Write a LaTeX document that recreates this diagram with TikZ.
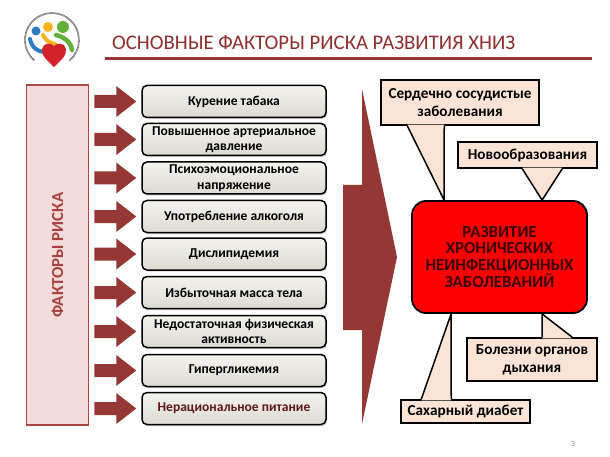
\documentclass[tikz,border=0pt]{standalone}
\usepackage{fontspec}
\setmainfont{Carlito}
\usetikzlibrary{shadows,calc}
\definecolor{dred}{HTML}{953735}
\definecolor{titlered}{HTML}{8E2F2D}
\definecolor{riskfill}{HTML}{F3DCDB}
\definecolor{riskline}{HTML}{A94744}
\definecolor{risktext}{HTML}{A8423F}
\definecolor{boxtop}{HTML}{F4F3EE}
\definecolor{boxbot}{HTML}{DCDAD2}
\definecolor{callfill}{HTML}{FBE4D5}
\definecolor{coretext}{HTML}{3A0505}
\definecolor{nutrition}{HTML}{5E1A1A}
\definecolor{lblue}{HTML}{2E7BBF}
\definecolor{lorange}{HTML}{F5B31B}
\definecolor{lgreen}{HTML}{64AE3C}
\definecolor{lheart}{HTML}{D2232A}
\newlength\mytw
\newcommand\calcsize[3]{%
  \settowidth\mytw{\fontsize{10}{12}\selectfont #3}%
  \pgfmathsetmacro#1{10*#2/\mytw}}
\begin{document}
\calcsize\titlesize{403}{ОСНОВНЫЕ ФАКТОРЫ РИСКА РАЗВИТИЯ ХНИЗ}%
\calcsize\boxsize{164}{\bfseries Повышенное артериальное}%
\calcsize\coresize{148}{\bfseries НЕИНФЕКЦИОННЫХ}%
\calcsize\callsize{143}{\bfseries Сердечно сосудистые}%
\calcsize\risksize{125}{\bfseries ФАКТОРЫ РИСКА}%
\begin{tikzpicture}[x=1pt,y=-1pt]
\tikzset{
  factor/.style={draw=black, line width=1.5pt, rounded corners=5pt,
    top color=boxtop, bottom color=boxbot, minimum width=184pt,
    minimum height=32pt, inner sep=1pt, align=center,
    font=\fontsize{\boxsize}{15.5}\selectfont\bfseries,
    drop shadow={shadow xshift=1.2pt, shadow yshift=-1.6pt, fill=black!35}},
  callbox/.style={draw=black, line width=1.5pt, fill=callfill, align=center,
    font=\fontsize{\callsize}{18}\selectfont\bfseries, inner sep=0pt},
  pointerline/.style={draw=black, line width=1.5pt, line join=round},
  blockarrow/.style={fill=dred, draw=none}
}
\useasboundingbox (0,0) rectangle (610,457);
\fill[white] (0,0) rectangle (610,457);

% logo
\begin{scope}[shift={(52,40)}, yscale=-1]
  \draw[black!55, line width=1.8pt, dash pattern=on 0.7pt off 0.5pt] (-50:27) arc (-50:230:27);
  \draw[lblue, line width=4pt, line cap=round] (-22,1) .. controls (-20,-8) and (-14,-12) .. (-7,-12);
  \draw[lorange, line width=4pt, line cap=round] (-9,5) .. controls (-6,-1) and (-2,-3) .. (3,-4);
  \draw[lgreen, line width=4.5pt, line cap=round] (4,5) .. controls (12,3) and (19,-2) .. (20,-10);
  \fill[lblue] (-16,9) circle (4.5);
  \fill[lorange] (-4,13) circle (5);
  \fill[lgreen] (11,13) circle (6);
  \fill[lheart] (2,-27) .. controls (-4,-21) and (-11,-16) .. (-10,-9)
    .. controls (-9,-3) and (-1,-2) .. (2,-6)
    .. controls (5,-2) and (13,-3) .. (14,-9)
    .. controls (15,-16) and (8,-21) .. (2,-27) -- cycle;
\end{scope}

% title
\node[anchor=base west, inner sep=0pt, text=titlered,
  font=\fontsize{\titlesize}{22}\selectfont] (title) at (112,50)
  {ОСНОВНЫЕ ФАКТОРЫ РИСКА РАЗВИТИЯ ХНИЗ};
\fill[dred] (105,57) rectangle (592,60.5);

% left panel
\node[draw=riskline, line width=1.6pt, fill=riskfill, minimum width=62pt,
  minimum height=340pt, inner sep=0pt] (risk) at (57.5,255) {};
\node[rotate=90, text=risktext, font=\fontsize{\risksize}{17}\selectfont\bfseries,
  inner sep=0pt] (risklabel) at (risk.center) {ФАКТОРЫ РИСКА};

% factor boxes
\node[factor] (f1) at (234,101.5) {Курение табака};
\node[factor] (f2) at (234,139.5) {Повышенное артериальное\\давление};
\node[factor] (f3) at (234,178) {Психоэмоциональное\\напряжение};
\node[factor] (f4) at (234,216.5) {Употребление алкоголя};
\node[factor] (f5) at (234,254) {Дислипидемия};
\node[factor] (f6) at (234,292.5) {Избыточная масса тела};
\node[factor] (f7) at (234,331.5) {Недостаточная физическая\\активность};
\node[factor] (f8) at (234,370.5) {Гипергликемия};
\node[factor, text=nutrition] (f9) at (234,408.5) {Нерациональное питание};

% small arrows
\foreach \i in {1,...,9}{
  \fill[blockarrow] ($(f\i.west)+(-47,-6.5)$) -- ($(f\i.west)+(-25,-6.5)$)
    -- ($(f\i.west)+(-25,-15.5)$) -- ($(f\i.west)+(-5,0)$)
    -- ($(f\i.west)+(-25,15.5)$) -- ($(f\i.west)+(-25,6.5)$)
    -- ($(f\i.west)+(-47,6.5)$) -- cycle;
}

% big arrow
\fill[blockarrow] (343,185) -- (362,185) -- (362,89) -- (397,257)
  -- (362,424) -- (362,330) -- (343,330) -- cycle;

% core
\node[draw=black, line width=1.8pt, fill=red, rounded corners=14pt,
  minimum width=175pt, minimum height=112pt, align=center, inner sep=0pt,
  text=coretext, font=\fontsize{\coresize}{16.3}\selectfont\bfseries] (core) at (499.5,257)
  {РАЗВИТИЕ\\ХРОНИЧЕСКИХ\\НЕИНФЕКЦИОННЫХ\\ЗАБОЛЕВАНИЙ};

% callouts
\node[callbox, minimum width=158pt, minimum height=45pt] (c1) at (460,102.5)
  {Сердечно сосудистые\\заболевания};
\node[callbox, minimum width=139pt, minimum height=26pt] (c2) at (527.5,155)
  {Новообразования};
\node[callbox, minimum width=130pt, minimum height=43pt] (c3) at (532,359.5)
  {Болезни органов\\дыхания};
\node[callbox, minimum width=129pt, minimum height=23pt] (c4) at (465.5,411.5)
  {Сахарный диабет};

\coordinate (t1) at ($(core.north west)+(33,0)$);
\coordinate (t2) at ($(core.north west)+(131,0)$);
\coordinate (t3) at ($(core.south west)+(131,0)$);
\coordinate (t4) at ($(core.south west)+(40,0)$);

\coordinate (a1) at ($(c1.south west)+(27,0)$);
\coordinate (b1) at ($(c1.south west)+(64,0)$);
\coordinate (a2) at ($(c2.south west)+(65,0)$);
\coordinate (b2) at ($(c2.south west)+(105,0)$);
\coordinate (a3) at ($(c3.north west)+(76,0)$);
\coordinate (b3) at ($(c3.north west)+(106,0)$);
\coordinate (a4) at ($(c4.north west)+(21,0)$);
\coordinate (b4) at ($(c4.north west)+(51,0)$);

\fill[callfill] ($(a1)+(0,-1.2)$) -- ($(b1)+(0,-1.2)$) -- (t1) -- cycle;
\fill[callfill] ($(a2)+(0,-1.2)$) -- ($(b2)+(0,-1.2)$) -- (t2) -- cycle;
\fill[callfill] ($(a3)+(0,1.2)$) -- ($(b3)+(0,1.2)$) -- (t3) -- cycle;
\fill[callfill] ($(a4)+(0,1.2)$) -- ($(b4)+(0,1.2)$) -- (t4) -- cycle;
\draw[pointerline] (a1) -- (t1) -- (b1);
\draw[pointerline] (a2) -- (t2) -- (b2);
\draw[pointerline] (a3) -- (t3) -- (b3);
\draw[pointerline] (a4) -- (t4) -- (b4);

% page number
\node[text=black!45, font=\fontsize{8}{9}\selectfont, inner sep=0pt] (pagenum) at (573,444) {3};
\end{tikzpicture}
\end{document}
